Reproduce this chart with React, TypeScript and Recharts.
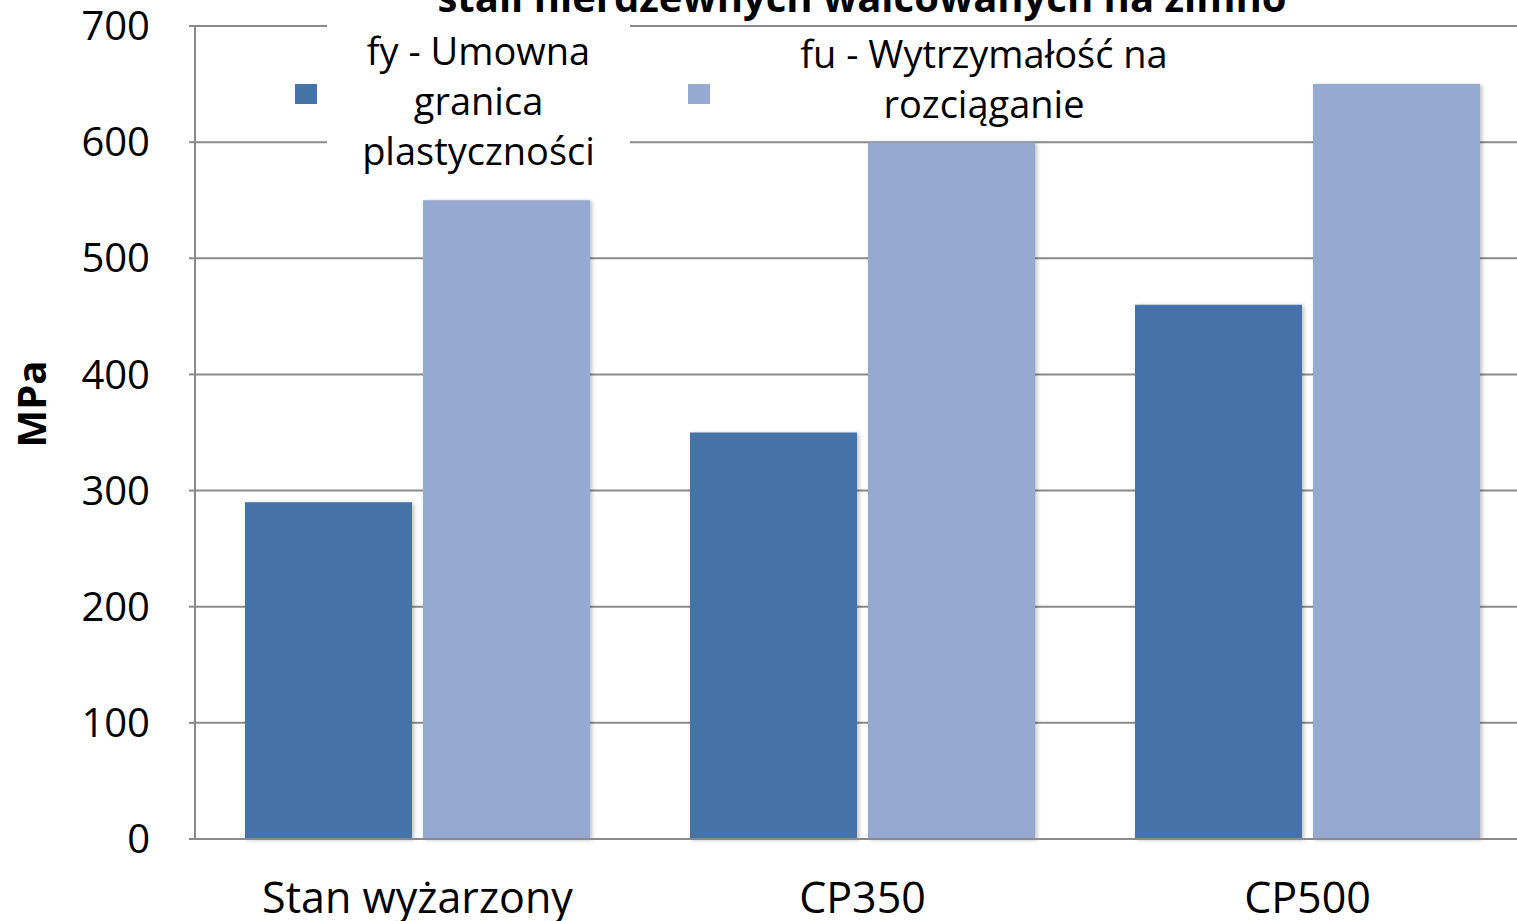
import React from 'react';
import { BarChart, Bar, XAxis, YAxis, CartesianGrid, Legend } from 'recharts';

const categories = ['Stan wyżarzony', 'CP350', 'CP500'];
const fyValues = [290, 350, 460];
const fuValues = [550, 600, 650];
const yTicks = [0, 100, 200, 300, 400, 500, 600, 700];
const seriesNames = ['fy - Umowna granica plastyczności', 'fu - Wytrzymałość na rozciąganie'];
const titleText = 'stali nierdzewnych walcowanych na zimno';
const yLabel = 'MPa';

const data = categories.map((c, i) => ({ name: c, fy: fyValues[i], fu: fuValues[i] }));

const FONT = '"Open Sans", sans-serif';

const legendBlocks: Record<string, any> = {
  fy: { markerLeft: 295, labelLeft: 327, labelWidth: 303, top: 25, pad: 22 },
  fu: { markerLeft: 688, labelLeft: 774, labelWidth: 420, top: 28, pad: 10 },
};

const LegendContent = (props: any) => {
  const payload = props.payload || [];
  return (
    <div style={{ position: 'relative', width: 1540, height: 200, fontFamily: FONT }}>
      {payload.map((p: any, i: number) => {
        const b = legendBlocks[p.dataKey] || legendBlocks.fy;
        return (
          <React.Fragment key={i}>
            <div style={{ position: 'absolute', left: b.markerLeft, top: 84, width: 22, height: 20, background: p.color }} />
            <div
              style={{
                position: 'absolute',
                left: b.labelLeft,
                top: b.top,
                width: b.labelWidth,
                boxSizing: 'border-box',
                padding: `0 ${b.pad}px`,
                background: '#fff',
                textAlign: 'center',
                fontSize: 38,
                lineHeight: '50px',
                color: '#000',
              }}
            >
              {p.value}
            </div>
          </React.Fragment>
        );
      })}
    </div>
  );
};

const YLabel = () => (
  <text x={46} y={404} transform="rotate(-90 46 404)" textAnchor="middle" fontFamily={FONT} fontWeight={700} fontSize={40} fill="#000">
    {yLabel}
  </text>
);

export default function App() {
  return (
    <div style={{ position: 'absolute', left: 0, top: 0, width: 1517, height: 921, overflow: 'hidden', background: '#fff' }}>
      <BarChart
        width={1540}
        height={921}
        data={data}
        margin={{ top: 26, right: 10, bottom: 0, left: 0 }}
        barCategoryGap={50}
        barGap={11}
      >
        <text x={862} y={12} textAnchor="middle" fontFamily={FONT} fontWeight={700} fontSize={40} fill="#000">
          {titleText}
        </text>
        <CartesianGrid vertical={false} stroke="#8a8a8a" strokeWidth={2} />
        <XAxis
          dataKey="name"
          height={82}
          tickLine={false}
          axisLine={{ stroke: '#8a8a8a', strokeWidth: 2 }}
          tickMargin={37}
          tick={{ fontFamily: FONT, fontSize: 43, fill: '#000' }}
          interval={0}
        />
        <YAxis
          width={195}
          domain={[0, 700]}
          ticks={yTicks}
          tickSize={6}
          tickMargin={39}
          axisLine={{ stroke: '#8a8a8a', strokeWidth: 2 }}
          tickLine={{ stroke: '#8a8a8a', strokeWidth: 2 }}
          tick={{ fontFamily: FONT, fontSize: 40, fill: '#000' }}
          label={<YLabel />}
        />
        <Legend
          layout="horizontal"
          verticalAlign="middle"
          align="center"
          wrapperStyle={{ position: 'absolute', left: 0, top: 0, width: 1540, height: 200 }}
          content={<LegendContent />}
        />
        <Bar dataKey="fy" name={seriesNames[0]} fill="#4572A7" isAnimationActive={false} style={{ filter: 'drop-shadow(2px 1px 2px rgba(0,0,0,0.25))' }} />
        <Bar dataKey="fu" name={seriesNames[1]} fill="#95A9D1" isAnimationActive={false} style={{ filter: 'drop-shadow(2px 1px 2px rgba(0,0,0,0.25))' }} />
      </BarChart>
    </div>
  );
}
